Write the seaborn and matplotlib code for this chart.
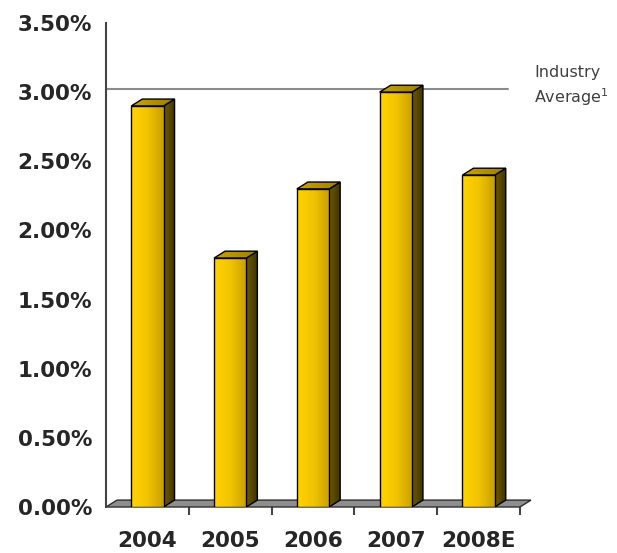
import matplotlib
matplotlib.use("Agg")
import matplotlib.pyplot as plt
import seaborn as sns
import numpy as np
import pandas as pd
from matplotlib.colors import LinearSegmentedColormap
from matplotlib.patches import Polygon

# ---- data ----
years = ["2004", "2005", "2006", "2007", "2008E"]
rates = [2.9, 1.8, 2.3, 3.0, 2.4]
industry_avg = 3.02
industry_label = "Industry\nAverage$^{1}$"
yticks = [0.0, 0.5, 1.0, 1.5, 2.0, 2.5, 3.0, 3.5]

df = pd.DataFrame({"year": years, "rate": rates})

sns.set_style("white")
plt.rcParams["font.family"] = ["DejaVu Sans"]

fig = plt.figure(figsize=(6.17, 5.53), dpi=100)
ax = fig.add_axes([106/617, 1-507/553, (520-106)/617, (507-23)/553])

sns.barplot(data=df, x="year", y="rate", ax=ax, width=0.39, color="#F2C200",
            edgecolor="black", linewidth=1.0, saturation=1, zorder=3)

ax.set_xlim(-0.5, 4.5)
ax.set_ylim(0, 3.5)

# 3D depth offsets (data units)
dx, dy = 0.133, 0.05

front_cmap = LinearSegmentedColormap.from_list("front", ["#FFD400", "#F2C400", "#C9A000"])
side_cmap = LinearSegmentedColormap.from_list("side", ["#6E5A00", "#3E3200"])
top_cmap = LinearSegmentedColormap.from_list("top", ["#C9A200", "#9E7E00"])
grad = np.linspace(0, 1, 64).reshape(1, -1)

# floor
floor = Polygon([(-0.5, 0), (4.5, 0), (4.5 + dx, dy), (-0.5 + dx, dy)],
                closed=True, facecolor="#8E8E8E", edgecolor="#2E2E2E", lw=1.0,
                clip_on=False, zorder=2)
ax.add_patch(floor)

bars = [p for p in ax.patches if p is not floor]
for p in bars:
    x0, w, h = p.get_x(), p.get_width(), p.get_height()
    if w == 0:
        continue
    im = ax.imshow(grad, cmap=front_cmap, extent=[x0, x0 + w, 0, h],
                   aspect="auto", zorder=3.5)
    im.set_clip_path(p)
    p.set_facecolor("none")
    p.set_zorder(4)

    side_xy = [(x0 + w, 0), (x0 + w + dx, dy), (x0 + w + dx, h + dy), (x0 + w, h)]
    side = Polygon(side_xy, closed=True, facecolor="#4F4000", edgecolor="none", zorder=3)
    ax.add_patch(side)
    im2 = ax.imshow(grad, cmap=side_cmap, extent=[x0 + w, x0 + w + dx, 0, h + dy],
                    aspect="auto", zorder=3.2)
    im2.set_clip_path(side)
    ax.add_patch(Polygon(side_xy, closed=True, facecolor="none", edgecolor="black",
                         lw=1.0, zorder=3.3))

    top_xy = [(x0, h), (x0 + w, h), (x0 + w + dx, h + dy), (x0 + dx, h + dy)]
    top = Polygon(top_xy, closed=True, facecolor="#B89400", edgecolor="none", zorder=3.35)
    ax.add_patch(top)
    im3 = ax.imshow(grad, cmap=top_cmap, extent=[x0, x0 + w + dx, h, h + dy],
                    aspect="auto", zorder=3.36)
    im3.set_clip_path(top)
    ax.add_patch(Polygon(top_xy, closed=True, facecolor="none", edgecolor="black",
                         lw=1.0, zorder=3.4))

ax.set_xlim(-0.5, 4.5)
ax.set_ylim(0, 3.5)

# industry average line
ax.plot([-0.5, 4.355], [industry_avg, industry_avg], color="#8C8C8C", lw=1.5,
        clip_on=False, zorder=1)
ax.text(4.67, industry_avg + 0.02, industry_label, fontsize=11.5,
        color="#404040", ha="left", va="center", linespacing=1.35)

# axes styling
for s in ["top", "right", "bottom"]:
    ax.spines[s].set_visible(False)
ax.spines["left"].set_color("#444444")
ax.spines["left"].set_linewidth(1.5)

ax.set_yticks(yticks)
ax.set_yticklabels([f"{v:.2f}%" for v in yticks], fontsize=15.5, fontweight="bold")
ax.tick_params(axis="y", direction="out", length=4, width=1.5, color="#444444", pad=6)

ax.set_xticks(range(len(years)))
ax.set_xticklabels(years, fontsize=15.5, fontweight="bold")
ax.tick_params(axis="x", which="major", length=0, pad=17)
ax.set_xticks([i + 0.5 for i in range(len(years))], minor=True)
ax.tick_params(axis="x", which="minor", direction="out", length=6, width=1.5,
               color="#444444", bottom=True)
ax.set_xlabel("")
ax.set_ylabel("")

fig.savefig("out.png", dpi=100)
